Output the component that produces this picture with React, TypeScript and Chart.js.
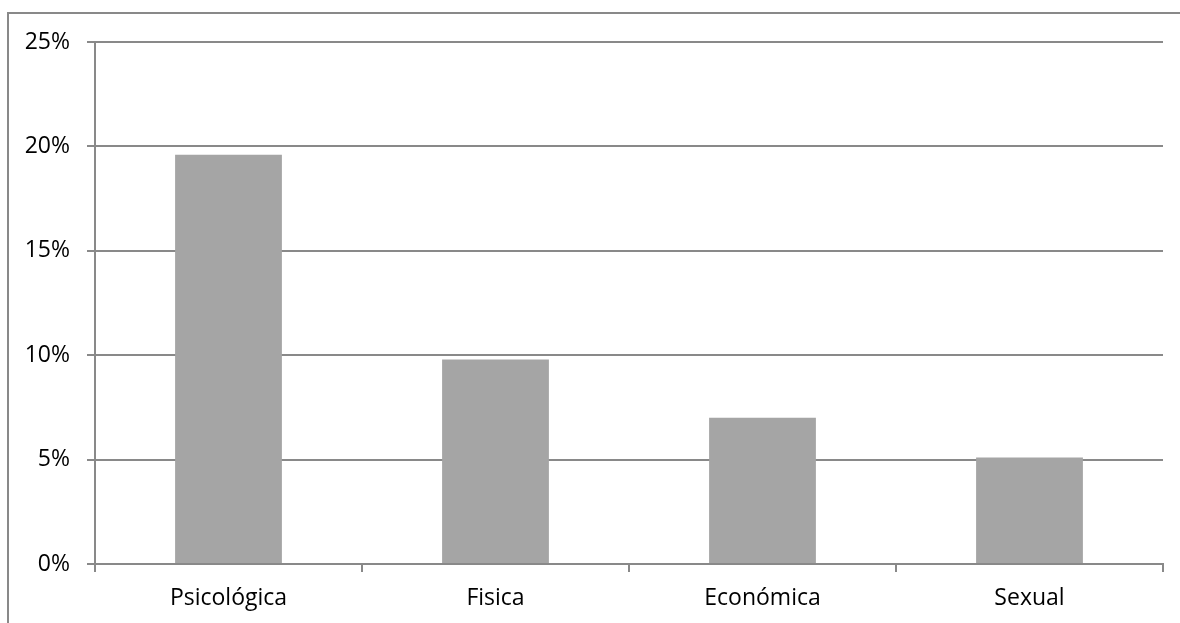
import React, { useEffect, useRef } from "react";
import { Chart, registerables } from "chart.js";

Chart.register(...registerables);

const categories = ["Psicológica", "Fisica", "Económica", "Sexual"];
const values = [19.6, 9.8, 7.0, 5.1];
const yTicks = [0, 5, 10, 15, 20, 25];

const FONT = "'Open Sans', sans-serif";
const GRID = "#898989";

const borderPlugin = {
  id: "outerBorder",
  beforeDraw(chart: any) {
    const ctx = chart.ctx;
    ctx.save();
    ctx.strokeStyle = "#898989";
    ctx.lineWidth = 2;
    ctx.strokeRect(8, 13, 1300, 800);
    ctx.restore();
  },
};

export default function App() {
  const ref = useRef<HTMLCanvasElement>(null);
  useEffect(() => {
    document.body.style.margin = "0";
    const chart = new Chart(ref.current!, {
      type: "bar",
      data: {
        labels: categories,
        datasets: [
          {
            data: values,
            backgroundColor: "#a5a5a5",
            barPercentage: 0.4,
            categoryPercentage: 1,
          },
        ],
      },
      plugins: [borderPlugin],
      options: {
        animation: false,
        responsive: false,
        layout: { padding: { left: 0, top: 42, right: 17, bottom: 0 } },
        plugins: { legend: { display: false }, tooltip: { enabled: false } },
        scales: {
          x: {
            offset: true,
            grid: {
              offset: true,
              drawOnChartArea: false,
              drawTicks: true,
              tickLength: 8,
              color: GRID,
              lineWidth: 2,
            },
            border: { display: true, color: GRID, width: 2 },
            ticks: {
              color: "#000",
              font: { family: FONT, size: 23 },
              padding: 13,
              maxRotation: 0,
            },
            afterFit(scale: any) {
              scale.height = 623 - 564;
            },
          },
          y: {
            min: 0,
            max: 25,
            afterBuildTicks(scale: any) {
              scale.ticks = yTicks.map((v) => ({ value: v }));
            },
            grid: {
              color: GRID,
              lineWidth: 2,
              tickLength: 8,
            },
            border: { display: true, color: GRID, width: 2 },
            ticks: {
              color: "#000",
              font: { family: FONT, size: 23 },
              padding: 17,
              callback: (v: any) => v + "%",
            },
            afterFit(scale: any) {
              scale.width = 95;
            },
          },
        },
      },
    });
    return () => chart.destroy();
  }, []);
  return (
    <div style={{ width: 1180, height: 623 }}>
      <canvas ref={ref} width={1180} height={623} />
    </div>
  );
}
